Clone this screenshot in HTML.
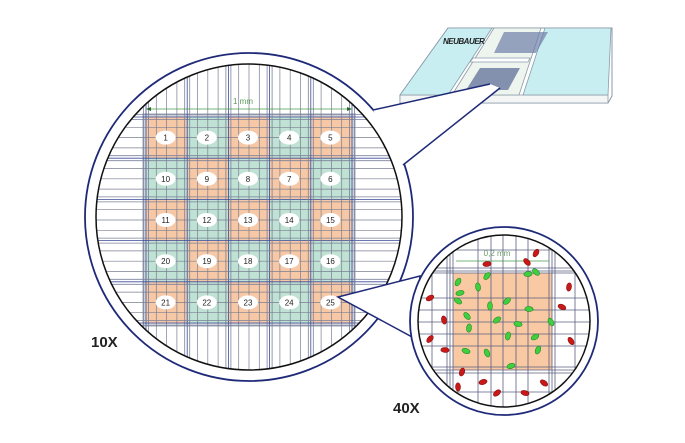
<!DOCTYPE html>
<html><head><meta charset="utf-8"><style>
html,body{margin:0;padding:0;background:#fff;}
svg{display:block;font-family:"Liberation Sans",sans-serif;}
</style></head><body>
<svg id="s" width="685" height="443" viewBox="0 0 685 443" xmlns="http://www.w3.org/2000/svg">
<defs>
<clipPath id="bigClip"><circle cx="249" cy="217" r="153"/></clipPath>
<clipPath id="smallClip"><circle cx="504" cy="321" r="86"/></clipPath>
</defs>
<!-- slide -->
<g>
<polygon points="400,95 448,28 612,28 612,96 608,103 400,103" fill="#fff" stroke="#8a9aa8" stroke-width="1"/>
<polygon points="400,95 608,95 608,103 400,103" fill="#f4f6f6" stroke="#8a9aa8" stroke-width="0.8"/>
<polygon points="400,95 448,28 492,28 448,95" fill="#c8eef2" stroke="#8a9aa8" stroke-width="0.8"/>
<polygon points="523,95 545,28 611,28 608,95" fill="#c8eef2" stroke="#8a9aa8" stroke-width="0.8"/>
<polygon points="452,95 494,28 541,28 519,95" fill="#eef5ef" stroke="#8a9aa8" stroke-width="0.8"/>
<polygon points="470,62 473,58 530,58 528,62" fill="#fff" stroke="#8a9aa8" stroke-width="0.8"/>
<polygon points="504,32 548,32 536,53 494,53" fill="#6e7fa8" opacity="0.7"/>
<polygon points="480,68 520,68 508,90 466,90" fill="#5f6e98" opacity="0.75"/>
<text x="443" y="44" font-size="8" font-style="italic" font-weight="bold" fill="#222" letter-spacing="-0.5">NEUBAUER</text>
</g>
<!-- big circle -->
<circle cx="249" cy="217" r="164" fill="#fff" stroke="#1e2a78" stroke-width="1.8"/>
<g id="big" clip-path="url(#bigClip)"></g>
<circle cx="249" cy="217" r="153" fill="none" stroke="#111" stroke-width="1.5"/>
<!-- callout to slide -->
<g>
<polygon points="373,110 490,84 500,88 403,165 386,136" fill="#fff"/>
<line x1="373" y1="110" x2="490" y2="84" stroke="#1e2a78" stroke-width="1.5"/>
<line x1="403" y1="165" x2="500" y2="88" stroke="#1e2a78" stroke-width="1.5"/>
</g>
<!-- callout to small circle -->
<polygon points="338,297 420,276 414,338" fill="#fff" stroke="#1e2a78" stroke-width="1.5"/>
<circle cx="504" cy="321" r="94" fill="#fff" stroke="#1e2a78" stroke-width="1.8"/>
<g id="small" clip-path="url(#smallClip)"></g>
<circle cx="504" cy="321" r="86" fill="none" stroke="#111" stroke-width="1.5"/>
<text x="91" y="347" font-size="15" font-weight="bold" fill="#222">10X</text>
<text x="393" y="413" font-size="15" font-weight="bold" fill="#222">40X</text>
</svg>
<script>
const NS="http://www.w3.org/2000/svg";
const cellNumbers=[[1,2,3,4,5],[10,9,8,7,6],[11,12,13,14,15],[20,19,18,17,16],[21,22,23,24,25]];
const greenCells=[[458,282],[460,293],[458,301],[478,287],[487,276],[528,274],[536,272],[490,306],[507,301],[529,309],[467,316],[469,328],[497,320],[518,324],[551,322],[508,336],[535,337],[466,351],[487,353],[538,350],[511,366]];
const redCells=[[536,253],[487,264],[527,262],[569,287],[430,298],[562,307],[444,320],[430,339],[445,350],[571,341],[462,372],[483,382],[544,383],[458,387],[497,393],[525,393]];
function mk(p,t,a){const e=document.createElementNS(NS,t);for(const k in a)e.setAttribute(k,a[k]);p.appendChild(e);return e;}
const big=document.getElementById('big');
const x0=146,y0=117,P=41.2;
for(let r=0;r<5;r++)for(let c=0;c<5;c++){
 const sq=mk(big,'rect',{x:x0+c*P,y:y0+r*P,width:P,height:P,fill:(r+c)%2==0?'#f7c8a6':'#bfe2d4'});
 
 
}
mk(big,'rect',{x:x0-4,y:y0-4,width:5*P+8,height:4,fill:'#cfd2d8'});
mk(big,'rect',{x:x0-4,y:y0+5*P,width:5*P+8,height:4,fill:'#cfd2d8'});
mk(big,'rect',{x:x0-4,y:y0,width:4,height:5*P,fill:'#cfd2d8'});
mk(big,'rect',{x:x0+5*P,y:y0,width:4,height:5*P,fill:'#cfd2d8'});
for(let i=0;i<=20;i++){
 const x=x0+i*P/4,y=y0+i*P/4;
 if(i%4==0){
  for(const d of [-2.5,0,2.5]){
   mk(big,'line',{x1:x+d,y1:55,x2:x+d,y2:380,stroke:d==0?'#3a4a9a':'#7a8098','stroke-width':0.8});
   mk(big,'line',{x1:85,y1:y+d,x2:415,y2:y+d,stroke:d==0?'#3a4a9a':'#7a8098','stroke-width':0.8});
  }
 } else {
  mk(big,'line',{x1:x,y1:55,x2:x,y2:380,stroke:'#7a7f90','stroke-width':0.7});
  mk(big,'line',{x1:85,y1:y,x2:415,y2:y,stroke:'#7a7f90','stroke-width':0.7});
 }
}
for(let r=0;r<5;r++)for(let c=0;c<5;c++){
 const cx=x0+c*P+P/2-1,cy=y0+r*P+P/2;
 mk(big,'ellipse',{cx:cx,cy:cy,rx:10,ry:7,fill:'#fff'});
 const t=mk(big,'text',{x:cx,y:cy+3,'font-size':8,'text-anchor':'middle',fill:'#222'});
 
 
 t.textContent=cellNumbers[r][c];
}
mk(big,'line',{x1:148,y1:109,x2:350,y2:109,stroke:'#4a9a4a','stroke-width':0.8});
mk(big,'polygon',{points:'146,109 151,107 151,111',fill:'#2a6a2a'});
mk(big,'polygon',{points:'352,109 347,107 347,111',fill:'#2a6a2a'});
const mm=mk(big,'text',{x:243,y:104,'font-size':8,'text-anchor':'middle',fill:'#5a9a5a'});


mm.textContent='1 mm';
const sm=document.getElementById('small');
mk(sm,'rect',{x:453,y:273,width:99,height:97,fill:'#f8c9a3'});
const vx=[432,447,450,453,478,491,503,516,528,549,552,555,575];
const hy=[250,268,271,273,298,310,322,334,346,367,370,373,392];
for(const x of vx)mk(sm,'line',{x1:x,y1:230,x2:x,y2:412,stroke:'#5a5f80','stroke-width':0.8});
for(const y of hy)mk(sm,'line',{x1:415,y1:y,x2:595,y2:y,stroke:'#5a5f80','stroke-width':0.8});
mk(sm,'line',{x1:456,y1:261,x2:549,y2:261,stroke:'#4a9a4a','stroke-width':0.8});
const mm2=mk(sm,'text',{x:497,y:256,'font-size':8,'text-anchor':'middle',fill:'#6a9a6a'});


mm2.textContent='0,2 mm';
greenCells.forEach((p,i)=>{
 const e=mk(sm,'ellipse',{cx:p[0],cy:p[1],rx:4.2,ry:2.5,fill:'#3fcf3f',stroke:'#1a7a1a','stroke-width':0.5,transform:`rotate(${(i*47)%180-60} ${p[0]} ${p[1]})`});
 
 
});
redCells.forEach((p,i)=>{
 const e=mk(sm,'ellipse',{cx:p[0],cy:p[1],rx:4.2,ry:2.5,fill:'#c81818',stroke:'#7a0a0a','stroke-width':0.5,transform:`rotate(${(i*53)%180-60} ${p[0]} ${p[1]})`});
 
 
});
</script>
</body></html>
